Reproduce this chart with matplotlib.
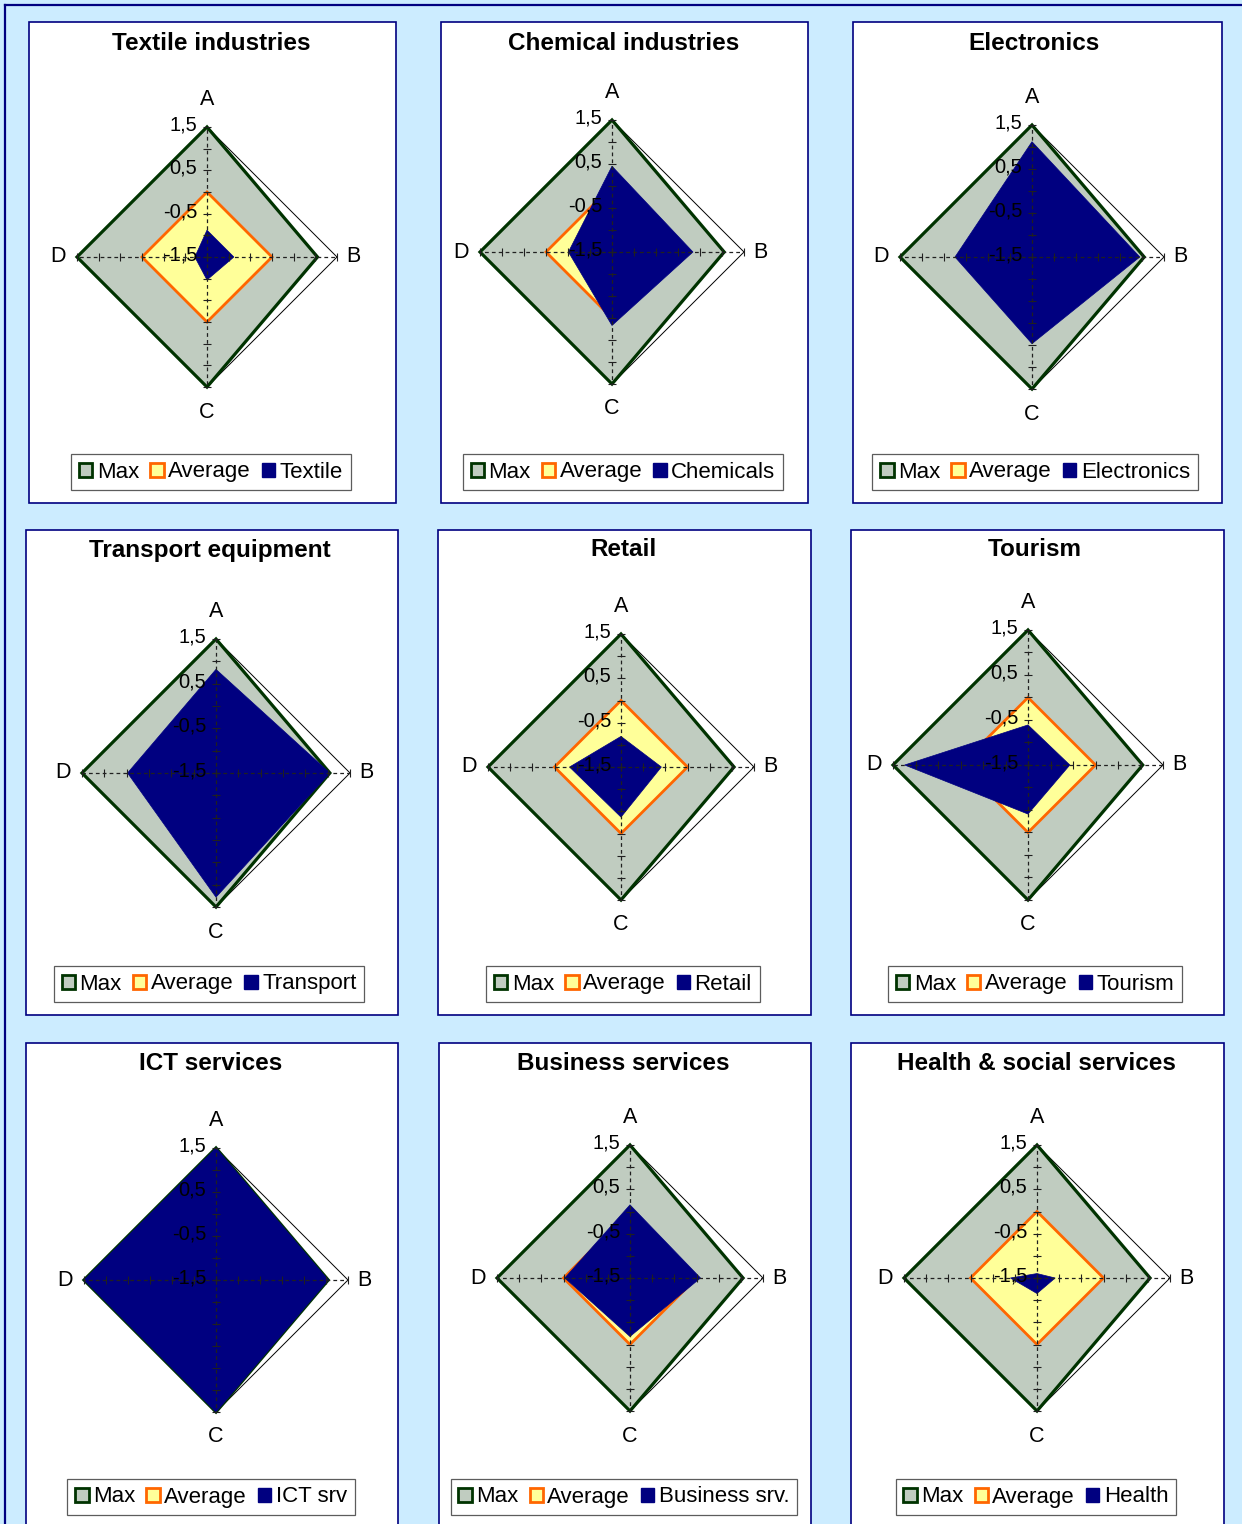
import numpy as np
import matplotlib
matplotlib.use('Agg')
import matplotlib.pyplot as plt
from matplotlib.patches import Rectangle, Patch
from matplotlib.lines import Line2D

plt.rcParams['font.family'] = ['Liberation Sans', 'DejaVu Sans']

# data (center of each radar = -1.5)
axis_names = ['A', 'B', 'C', 'D']
max_vals = [1.5, 1.05, 1.5, 1.5]
avg_vals = [0.0, 0.0, 0.0, 0.0]

titles = ['Textile industries', 'Chemical industries', 'Electronics',
          'Transport equipment', 'Retail', 'Tourism',
          'ICT services', 'Business services', 'Health & social services']
series_names = ['Textile', 'Chemicals', 'Electronics',
                'Transport', 'Retail', 'Tourism',
                'ICT srv', 'Business srv.', 'Health']

textile = [-0.88, -0.88, -0.97, -1.22]
chemicals = [0.45, 0.34, 0.17, -0.51]
electronics = [1.12, 0.95, 0.47, 0.25]
transport = [0.82, 1.05, 1.28, 0.48]
retail = [-0.81, -0.59, -0.37, -0.34]
tourism = [-0.61, -0.57, -0.41, 1.24]
ict = [1.5, 1.05, 1.5, 1.5]
business = [0.15, 0.09, -0.18, -0.03]
health = [-1.4, -1.09, -1.15, -0.9]
series_vals = [textile, chemicals, electronics, transport, retail, tourism,
               ict, business, health]

r_min, r_max = -1.5, 1.5
tick_vals = [-1.5, -1.0, -0.5, 0.0, 0.5, 1.0, 1.5]
tick_labels = {1.5: '1,5', 0.5: '0,5', -0.5: '-0,5', -1.5: '-1,5'}

# layout in pixels
W, H = 1242, 1524
panels = [(29, 22, 396, 503), (441, 22, 808, 503), (853, 22, 1222, 503),
          (26, 530, 398, 1015), (438, 530, 811, 1015), (851, 530, 1224, 1015),
          (26, 1043, 398, 1560), (439, 1043, 811, 1560), (851, 1043, 1224, 1560)]
centers = [(207, 257, 130), (612, 252, 132), (1032, 257, 132),
           (216, 773, 134), (621, 767, 133), (1028, 765, 135),
           (216, 1280, 132), (630, 1278, 133), (1037, 1278, 133)]
title_pos = [(211, 43), (624, 43), (1034, 43),
             (210, 550), (623, 550), (1035, 550),
             (211, 1063), (623, 1063), (1036, 1063)]
legend_pos = [(211, 472), (623, 472), (1035, 472),
              (209, 984), (623, 984), (1035, 984),
              (211, 1497), (624, 1497), (1036, 1497)]

bg_col = '#CCECFF'
navy = '#000080'
max_fill, max_edge = '#C0CCC0', '#003300'
avg_fill, avg_edge = '#FFFF99', '#FF6600'


def fx(px):
    return px / W


def fy(py):
    return 1 - py / H


fig = plt.figure(figsize=(W / 100, H / 100), dpi=100)
fig.patch.set_facecolor(bg_col)

# outer frame of the sheet
fig.add_artist(Line2D([fx(5), fx(1250)], [fy(5), fy(5)], color=navy, lw=1.6))
fig.add_artist(Line2D([fx(5), fx(5)], [fy(5), fy(1530)], color=navy, lw=1.6))

theta = np.linspace(0, 2 * np.pi, len(axis_names), endpoint=False)
theta_c = np.append(theta, theta[0])


def closed(v):
    return np.append(v, v[0])


for i in range(9):
    x0, y0, x1, y1 = panels[i]
    fig.add_artist(Rectangle((fx(x0), fy(y1)), (x1 - x0) / W, (y1 - y0) / H,
                             transform=fig.transFigure, facecolor='white',
                             edgecolor=navy, lw=1.2, zorder=0))

    cx, cy, R = centers[i]
    ax = fig.add_axes([fx(cx - R), fy(cy + R), 2 * R / W, 2 * R / H],
                      projection='polar')
    ax.set_theta_zero_location('N')
    ax.set_theta_direction(-1)
    ax.set_ylim(r_min, r_max)
    ax.axis('off')

    # outer grid polygon
    ax.plot(theta_c, [r_max] * 5, color='black', lw=0.7, zorder=1, clip_on=False)

    ax.fill(theta_c, closed(max_vals), facecolor=max_fill, edgecolor=max_edge,
            lw=2.3, zorder=2, clip_on=False, joinstyle='miter')
    ax.fill(theta_c, closed(avg_vals), facecolor=avg_fill, edgecolor=avg_edge,
            lw=2.0, zorder=3, clip_on=False, joinstyle='miter')
    ax.fill(theta_c, closed(series_vals[i]), facecolor=navy, edgecolor=navy,
            lw=0.5, zorder=4, clip_on=False)

    # dashed axes with tick marks
    for k, t in enumerate(theta):
        ax.plot([t, t], [r_min, r_max], color='#202020', lw=0.9,
                dashes=(3, 2.5), zorder=5, clip_on=False)
        mk = '_' if k % 2 == 0 else '|'
        ax.plot([t] * len(tick_vals), tick_vals, linestyle='none', marker=mk,
                ms=6, mew=0.8, color='#202020', zorder=6, clip_on=False)

    for v, lab in tick_labels.items():
        ax.annotate(lab, xy=(0, v), xytext=(-7, 1.5), textcoords='offset points',
                    ha='right', va='center', fontsize=14.5, zorder=7,
                    annotation_clip=False)

    offs = [(0, 20), (12, 0), (0, -18), (-14, 0)]
    for k, t in enumerate(theta):
        ax.annotate(axis_names[k], xy=(t, r_max), xytext=offs[k],
                    textcoords='offset points', ha='center', va='center',
                    fontsize=15.5, annotation_clip=False)

    tx, ty = title_pos[i]
    fig.text(fx(tx), fy(ty), titles[i], ha='center', va='center',
             fontsize=17.5, fontweight='bold')

    handles = [Patch(facecolor=max_fill, edgecolor=max_edge, lw=2),
               Patch(facecolor=avg_fill, edgecolor=avg_edge, lw=2),
               Patch(facecolor=navy, edgecolor=navy, lw=1)]
    lx, ly = legend_pos[i]
    leg = fig.legend(handles, ['Max', 'Average', series_names[i]],
                     loc='center', bbox_to_anchor=(fx(lx), fy(ly)), ncol=3,
                     fontsize=16, frameon=True, fancybox=False,
                     handlelength=0.6, handleheight=0.6, handletextpad=0.2,
                     columnspacing=0.5, borderpad=0.35, borderaxespad=0)
    leg.get_frame().set_edgecolor('#333333')
    leg.get_frame().set_linewidth(0.9)

fig.savefig('out.png', dpi=100, facecolor=bg_col)
